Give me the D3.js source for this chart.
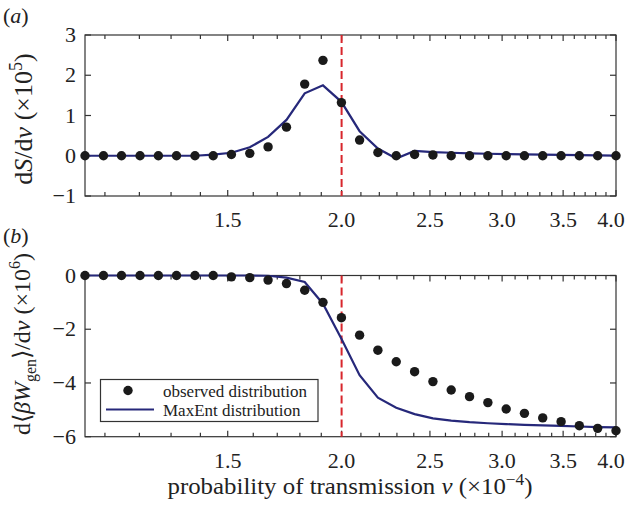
<!DOCTYPE html>
<html><head><meta charset="utf-8">
<script src="https://cdn.jsdelivr.net/npm/d3@7"></script>
<style>
html,body{margin:0;padding:0;background:#fff;}
svg{display:block;}
text{font-family:"Liberation Serif","Times New Roman",serif;fill:#222;}
</style></head>
<body><svg id="chart" width="628" height="505"></svg>
<script>
// ---- data ----
const nu = [1.046,1.096,1.147,1.202,1.259,1.318,1.381,1.446,1.514,1.586,1.661,1.740,1.822,1.908,1.999,2.093,2.192,2.296,2.405,2.519,2.638,2.763,2.894,3.031,3.174,3.324,3.482,3.646,3.819,4.0];
const dSobserved = [0,0,0,0,0,0,0,0,0.03,0.06,0.22,0.71,1.78,2.37,1.32,0.39,0.08,0,0.03,0.02,0,0,0,0,0,0,0,0,0,0];
const dSmaxent   = [0,0,0,0,0,0,0,0.03,0.075,0.21,0.47,0.89,1.55,1.75,1.34,0.61,0.18,-0.07,0.12,0.09,0.075,0.06,0.05,0.04,0.035,0.03,0.02,0.015,0.01,0.005];
const dWobserved = [0,0,0,0,0,0,0,0,-0.05,-0.08,-0.17,-0.30,-0.55,-1.0,-1.57,-2.22,-2.78,-3.21,-3.58,-3.95,-4.26,-4.51,-4.73,-4.97,-5.13,-5.30,-5.44,-5.59,-5.69,-5.78];
const dWmaxent   = [0,0,0,0,0,0,0,0,0,0,-0.01,-0.08,-0.24,-1.05,-2.35,-3.71,-4.55,-4.92,-5.16,-5.32,-5.40,-5.46,-5.50,-5.53,-5.56,-5.58,-5.60,-5.62,-5.64,-5.65];
const xTickLabels = [1.5,2.0,2.5,3.0,3.5,4.0];
const xMinorTicks = d3.range(11,41).map(d=>d/10);
const yTicksA = [-1,0,1,2,3];
const yTicksB = [0,-2,-4,-6];
const criticalNu = 2.0;
const legendLabels = ["observed distribution","MaxEnt distribution"];

const svg = d3.select("#chart");
const L = 85, R = 616;
const x = d3.scaleLog().domain([1.046,4.0]).range([L,R]);

const navy = "#26287a", red = "#d8262c", dotCol = "#1a1a1a", frame = "#333";

function panel(top, bottom, ydom, yticks, obs, mx){
  const y = d3.scaleLinear().domain(ydom).range([bottom, top]);
  const g = svg.append("g");
  g.append("rect").attr("x",L).attr("y",top).attr("width",R-L).attr("height",bottom-top)
    .attr("fill","none").attr("stroke",frame).attr("stroke-width",1.2);
  const isMajor = v => xTickLabels.some(t=>Math.abs(t-v)<1e-9);
  xMinorTicks.forEach(v=>{
    const len = isMajor(v)?6:4;
    g.append("line").attr("x1",x(v)).attr("x2",x(v)).attr("y1",bottom).attr("y2",bottom-len).attr("stroke",frame).attr("stroke-width",1.2);
    g.append("line").attr("x1",x(v)).attr("x2",x(v)).attr("y1",top).attr("y2",top+len).attr("stroke",frame).attr("stroke-width",1.2);
  });
  yticks.forEach(v=>{
    g.append("line").attr("x1",L).attr("x2",L+6).attr("y1",y(v)).attr("y2",y(v)).attr("stroke",frame).attr("stroke-width",1.2);
    g.append("line").attr("x1",R).attr("x2",R-6).attr("y1",y(v)).attr("y2",y(v)).attr("stroke",frame).attr("stroke-width",1.2);
    g.append("text").attr("x",L-9).attr("y",y(v)+7).attr("text-anchor","end").attr("font-size",22)
      .text(v<0? "\u2212"+Math.abs(v) : String(v));
  });
  xTickLabels.forEach(v=>{
    g.append("text").attr("x",Math.min(x(v),611)).attr("y",bottom+31).attr("text-anchor","middle").attr("font-size",22)
      .text(v.toFixed(1));
  });
  g.append("line").attr("x1",x(criticalNu)).attr("x2",x(criticalNu)).attr("y1",top).attr("y2",bottom)
    .attr("stroke",red).attr("stroke-width",2).attr("stroke-dasharray","8,4");
  const line = d3.line().x((d,i)=>x(nu[i])).y(d=>y(d));
  g.append("path").datum(mx).attr("d",line).attr("fill","none").attr("stroke",navy).attr("stroke-width",2.2);
  g.selectAll("circle.obs").data(obs).enter().append("circle")
    .attr("cx",(d,i)=>x(nu[i])).attr("cy",d=>y(d)).attr("r",4.7).attr("fill",dotCol);
  return y;
}

panel(35, 196, [-1,3], yTicksA, dSobserved, dSmaxent);
panel(275.5, 436.7, [-6,0], yTicksB, dWobserved, dWmaxent);

function plabel(txt, yy){
  const t = svg.append("text").attr("x",3).attr("y",yy).attr("font-size",22);
  t.append("tspan").text("(");
  t.append("tspan").attr("font-style","italic").text(txt);
  t.append("tspan").text(")");
}
plabel("a", 23);
plabel("b", 243);

{
  const t = svg.append("text").attr("transform","translate(32,119) rotate(-90)").attr("text-anchor","middle").attr("font-size",26);
  t.append("tspan").text("d");
  t.append("tspan").attr("font-style","italic").text("S");
  t.append("tspan").text("/d");
  t.append("tspan").attr("font-style","italic").text("\u03bd");
  t.append("tspan").text(" (\u00d710");
  t.append("tspan").attr("font-size",18).attr("dy",-10).text("5");
  t.append("tspan").attr("dy",10).text(")");
}
{
  const t = svg.append("text").attr("transform","translate(30,344) rotate(-90)").attr("text-anchor","middle").attr("font-size",24);
  t.append("tspan").text("d\u27e8");
  t.append("tspan").attr("font-style","italic").text("\u03b2W");
  t.append("tspan").attr("font-size",16).attr("dy",6).text("gen");
  t.append("tspan").attr("dy",-6).text("\u27e9/d");
  t.append("tspan").attr("font-style","italic").text("\u03bd");
  t.append("tspan").text(" (\u00d710");
  t.append("tspan").attr("font-size",16).attr("dy",-10).text("6");
  t.append("tspan").attr("dy",10).text(")");
}
{
  const t = svg.append("text").attr("x",350).attr("y",494).attr("text-anchor","middle").attr("font-size",23)
    .attr("textLength",365).attr("lengthAdjust","spacingAndGlyphs");
  t.append("tspan").text("probability of transmission ");
  t.append("tspan").attr("font-style","italic").text("\u03bd");
  t.append("tspan").text(" (\u00d710");
  t.append("tspan").attr("font-size",16).attr("dy",-9).text("\u22124");
  t.append("tspan").attr("dy",9).text(")");
}
{
  const g = svg.append("g");
  g.append("rect").attr("x",100.5).attr("y",379.5).attr("width",217.5).attr("height",42)
    .attr("fill","#fff").attr("stroke",frame).attr("stroke-width",1.2);
  g.append("circle").attr("cx",128).attr("cy",390.5).attr("r",4.7).attr("fill",dotCol);
  g.append("line").attr("x1",106).attr("x2",154).attr("y1",409.5).attr("y2",409.5).attr("stroke",navy).attr("stroke-width",2.2);
  g.append("text").attr("x",163).attr("y",396.5).attr("font-size",17).text(legendLabels[0]);
  g.append("text").attr("x",163).attr("y",415.5).attr("font-size",17).text(legendLabels[1]);
}
</script></body></html>
